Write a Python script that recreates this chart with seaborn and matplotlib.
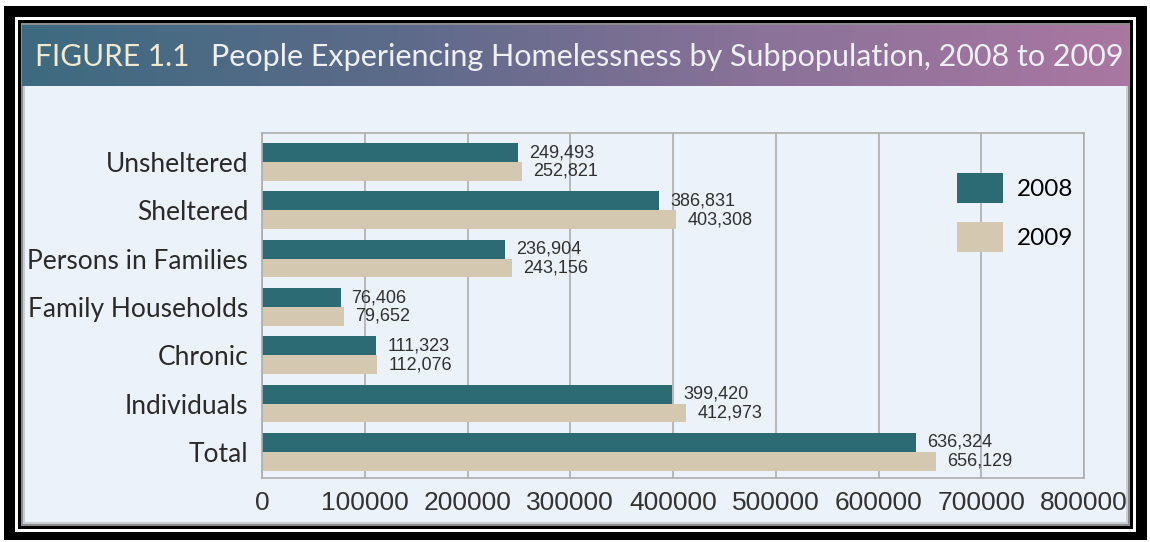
import numpy as np
import pandas as pd
import seaborn as sns
import matplotlib.pyplot as plt
from matplotlib.patches import Rectangle
from matplotlib.colors import LinearSegmentedColormap

# chart data
categories = ["Unsheltered", "Sheltered", "Persons in Families", "Family Households",
              "Chronic", "Individuals", "Total"]
values_2008 = [249493, 386831, 236904, 76406, 111323, 399420, 636324]
values_2009 = [252821, 403308, 243156, 79652, 112076, 412973, 656129]
years = ["2008", "2009"]
x_ticks = [0, 100000, 200000, 300000, 400000, 500000, 600000, 700000, 800000]

df = pd.DataFrame({
    "category": categories * 2,
    "value": values_2008 + values_2009,
    "year": [years[0]] * len(categories) + [years[1]] * len(categories),
})

W, H = 1150, 542
bg = "#ecf2f9"
fig = plt.figure(figsize=(W / 100, H / 100), dpi=100)
fig.patch.set_facecolor("white")


def frac_rect(x0, y0, x1, y1, color, z):
    # pixel box (top-down) -> figure fraction rectangle
    fig.patches.append(Rectangle((x0 / W, 1 - y1 / H), (x1 - x0) / W, (y1 - y0) / H,
                                 transform=fig.transFigure, facecolor=color,
                                 edgecolor="none", zorder=z))


# frame: black, thin white line, black, soft shadow, then the light panel
frac_rect(4, 6, 1147, 540, "black", -6)
frac_rect(15, 17, 1136, 532, "white", -5)
frac_rect(18, 20, 1133, 529, "black", -4)
frac_rect(21, 23, 1130, 526, "#8c8c8c", -3)
frac_rect(23, 25, 1128, 524, "#c9ced4", -2)
frac_rect(25, 27, 1126, 522, bg, -1)

# title bar gradient
tax = fig.add_axes([22 / W, 1 - 86 / H, (1129 - 22) / W, (86 - 25) / H])
cmap = LinearSegmentedColormap.from_list("ttl", ["#3d6a80", "#5c6a8a", "#8a7298", "#a977a2"])
tax.imshow(np.linspace(0, 1, 256)[None, :], aspect="auto", cmap=cmap,
           extent=[0, 1, 0, 1])
tax.set_axis_off()
tax.text(0.012, 0.47, "FIGURE 1.1", color="#f1ead0", fontsize=21.5, family="Lato",
         va="center", ha="left", transform=tax.transAxes)
tax.text(0.171, 0.47, "People Experiencing Homelessness by Subpopulation, 2008 to 2009",
         color="#eef0f6", fontsize=22, family="Lato", va="center", ha="left",
         transform=tax.transAxes)

# main chart
ax = fig.add_axes([262 / W, 1 - 478 / H, (1084 - 262) / W, (478 - 133) / H])
ax.set_facecolor(bg)
sns.barplot(data=df, x="value", y="category", hue="year", orient="h",
            palette=["#2c6b74", "#d4c9b0"], width=0.78, linewidth=0, ax=ax,
            saturation=1)

for cont in ax.containers:
    ax.bar_label(cont, labels=[f"{v:,.0f}" for v in cont.datavalues], padding=8,
                 fontsize=13, family="Liberation Sans", color="#303030")

ax.set_xlim(0, 800000)
ax.set_ylim(6.54, -0.6)
ax.set_xticks(x_ticks)
ax.set_xticklabels([str(t) for t in x_ticks], fontsize=19, family="Liberation Sans",
                   color="#333333")
ax.tick_params(axis="both", length=0)
ax.tick_params(axis="x", pad=9)
ax.tick_params(axis="y", pad=10)
for lab in ax.get_yticklabels():
    lab.set_fontsize(19)
    lab.set_family("Lato")
    lab.set_color("#2a2a2a")
ax.set_xlabel("")
ax.set_ylabel("")
ax.grid(axis="x", color="#adadad", linewidth=1.2)
ax.set_axisbelow(True)
for sp in ax.spines.values():
    sp.set_color("#adadad")
    sp.set_linewidth(1.2)

ax.legend(loc="upper left", bbox_to_anchor=(935 / W, 1 - 151 / H),
          bbox_transform=fig.transFigure, frameon=False,
          prop={"family": "Lato", "size": 17.5},
          handlelength=1.88, handleheight=1.54, labelspacing=0.78, handletextpad=0.6)

fig.savefig("out.png", dpi=100, facecolor=fig.get_facecolor())
